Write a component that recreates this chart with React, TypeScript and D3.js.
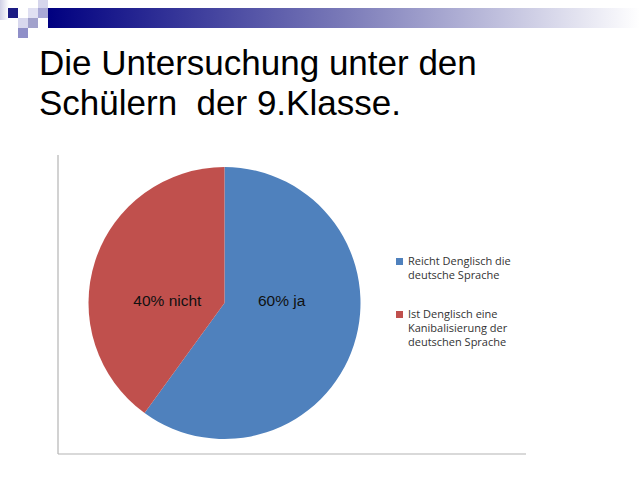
import React from "react";
import * as d3 from "d3";

const categories = ["ja", "nicht"];
const values = [60, 40];
const sliceLabels = ["60% ja", "40% nicht"];
const colors = ["#4f81bd", "#c0504d"];
const legendLines = [
  ["Reicht Denglisch die", "deutsche Sprache"],
  ["Ist Denglisch eine", "Kanibalisierung der", "deutschen Sprache"],
];
const titleLines = ["Die Untersuchung unter den", "Schülern  der 9.Klasse."];

// decorative squares in the top-left corner: [col, row, colour]
const cornerCells: [number, number, string][] = [
  [0, 1, "#1c1c84"],
  [2, 1, "#e0e0f2"],
  [3, 0, "#d6d6ec"],
  [3, 1, "#a9a9d6"],
  [1, 2, "#d8d8ee"],
  [2, 2, "#a2a2cc"],
  [1, 3, "#8f8fc8"],
];

const W = 640;
const H = 480;
const cx = 224.5;
const cy = 303;
const radius = 136;

function App() {
  const pie = d3
    .pie<number>()
    .sort(null)
    .value((d) => d);
  const arcs = pie(values);
  const arc = d3.arc<d3.PieArcDatum<number>>().innerRadius(0).outerRadius(radius);

  return (
    <svg
      width={W}
      height={H}
      style={{ position: "absolute", left: 0, top: 0, background: "#fff" }}
    >
      <defs>
        <linearGradient id="bar" x1="0" x2="1" y1="0" y2="0">
          <stop offset="0" stopColor="#000080" />
          <stop offset="0.5" stopColor="#7a7ab8" />
          <stop offset="1" stopColor="#ffffff" />
        </linearGradient>
        <linearGradient id="corner" x1="0" x2="1" y1="0" y2="0">
          <stop offset="0" stopColor="#d0d0e6" />
          <stop offset="1" stopColor="#ffffff" />
        </linearGradient>
      </defs>

      <rect x={0} y={0} width={9} height={20} fill="url(#corner)" />
      <rect x={48} y={8} width={W - 48} height={20} fill="url(#bar)" />
      {cornerCells.map(([c, r, col], i) => (
        <rect key={i} x={8 + c * 10} y={-2 + r * 10} width={10} height={10} fill={col} />
      ))}

      <g fontFamily="Liberation Sans, Arial, sans-serif" fontSize={35} fill="#000">
        {titleLines.map((t, i) => (
          <text key={i} x={39} y={75 + i * 40} style={{ whiteSpace: "pre" }}>
            {t}
          </text>
        ))}
      </g>

      <g stroke="#b4b4b4" strokeWidth={1.2}>
        <line x1={58} y1={155} x2={58} y2={454} />
        <line x1={58} y1={454} x2={526} y2={454} />
      </g>

      <g transform={`translate(${cx},${cy})`}>
        {arcs.map((a, i) => (
          <path key={categories[i]} d={arc(a) ?? ""} fill={colors[i]} />
        ))}
        {arcs.map((a, i) => {
          const [x] = arc.centroid(a);
          return (
            <text
              key={categories[i]}
              x={Math.sign(x) * radius * 0.42}
              y={3}
              textAnchor="middle"
              fontFamily="Liberation Sans, Arial, sans-serif"
              fontSize={15.5}
              fill="#111"
            >
              {sliceLabels[i]}
            </text>
          );
        })}
      </g>

      <g fontFamily="Open Sans, sans-serif" fontSize={11} fill="#333">
        {legendLines.map((lines, i) => {
          const y0 = 265 + i * 53;
          return (
            <g key={i}>
              <rect x={396} y={y0 - 7} width={7} height={7} fill={colors[i]} />
              {lines.map((l, j) => (
                <text key={j} x={408} y={y0 + j * 14}>
                  {l}
                </text>
              ))}
            </g>
          );
        })}
      </g>
    </svg>
  );
}

export default App;
